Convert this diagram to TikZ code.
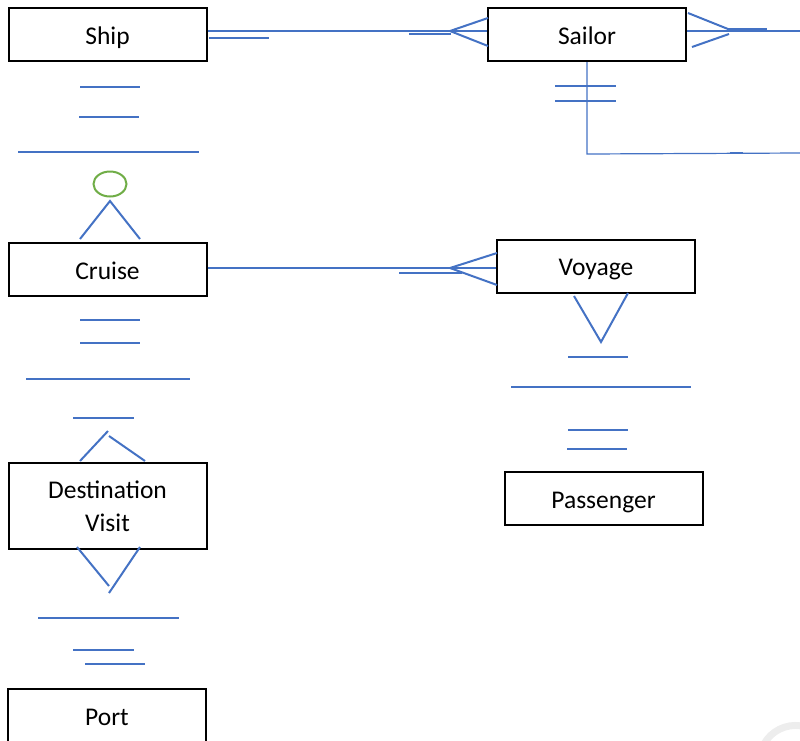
\documentclass[tikz,border=0pt]{standalone}
\usepackage{fontspec}
\setmainfont{Carlito}
\usepackage{tikz}
\usetikzlibrary{calc}
\definecolor{erblue}{HTML}{4472C4}
\definecolor{ergreen}{HTML}{70AD47}

\begin{document}
\begin{tikzpicture}[
  font=\fontsize{25.5}{33}\selectfont,
  entity/.style={rectangle, draw, line width=2pt, minimum width=198pt, minimum height=53pt, align=center, inner sep=0pt, text height=22pt, text depth=3pt},
  rel/.style={erblue, line width=2pt},
  thinrel/.style={erblue, line width=1.2pt},
  x=1pt,
  y=-1pt
]
\useasboundingbox (0,0) rectangle (800,740);

% Entities
\node[entity] (ship) at (107.5,34.5) {Ship};
\node[entity] (sailor) at (587,34.5) {Sailor};
\node[entity] (cruise) at (107.5,269.5) {Cruise};
\node[entity] (voyage) at (596,266) {Voyage};
\node[entity, minimum height=86pt, text height=, text depth=] (destvisit) at (107.5,506) {Destination\\Visit};
\node[entity] (passenger) at (603.5,498.5) {Passenger};
\node[entity] (port) at (107,715.5) {Port};

% Ship -- Sailor
\draw[rel] ($(ship.east)+(0,-3.5)$) coordinate (ss) -- (ss -| sailor.west);
\draw[rel] (209,37.5) -- (269,37.5);
\draw[rel] (409,34) -- (451,34);
\draw[rel] (488,18) -- (450,31) -- (488,46);

% Sailor, right side
\draw[thinrel] ($(sailor.east)+(0,-3.5)$) -- (800,31);
\draw[rel] (688,13) -- (728,29);
\draw[rel] (692,47) -- (729,34);
\draw[rel] (727,28.5) -- (767,28.5);

% Sailor, bottom
\draw[thinrel] (sailor.south) -- ++(0,92) -- (800,153);
\draw[rel] (555,86) -- (616,86);
\draw[rel] (555,101) -- (616,101);
\draw[rel] (730,152.5) -- (743,152.5);

% Ship -- Cruise
\draw[rel] (80,87) -- (140,87);
\draw[rel] (79,117) -- (139,117);
\draw[rel] (18,152) -- (199,152);
\draw[ergreen, line width=2pt] (110,184) ellipse[x radius=16.5, y radius=12.5];
\draw[rel] (80,239) -- (110,201) -- (140,239);

% Cruise -- Voyage
\draw[rel] ($(cruise.east)+(0,-1.5)$) coordinate (cv) -- (cv -| voyage.west);
\draw[rel] (399,273) -- (462,273);
\draw[rel] (497,253) -- (450,268) -- (497,285);

% Voyage -- Passenger
\draw[rel] (574,296) -- (601,342) -- (628,293);
\draw[rel] (568,357) -- (628,357);
\draw[rel] (511,387) -- (691,387);
\draw[rel] (568,430) -- (628,430);
\draw[rel] (567,449) -- (627,449);

% Cruise -- Destination Visit
\draw[rel] (80,320) -- (140,320);
\draw[rel] (80,343) -- (140,343);
\draw[rel] (26,379) -- (190,379);
\draw[rel] (73,418) -- (134,418);
\draw[rel] (80,461) -- (108,431);
\draw[rel] (109,436) -- (145,461);

% Destination Visit -- Port
\draw[rel] (77,547) -- (109,586);
\draw[rel] (140,547) -- (109,593);
\draw[rel] (38,618) -- (179,618);
\draw[rel] (73,650) -- (134,650);
\draw[rel] (85,664) -- (145,664);

% faint mark in the corner
\draw[black!7, line width=7pt] (764,744) arc[start angle=209, end angle=278, radius=36];

\end{tikzpicture}
\end{document}
